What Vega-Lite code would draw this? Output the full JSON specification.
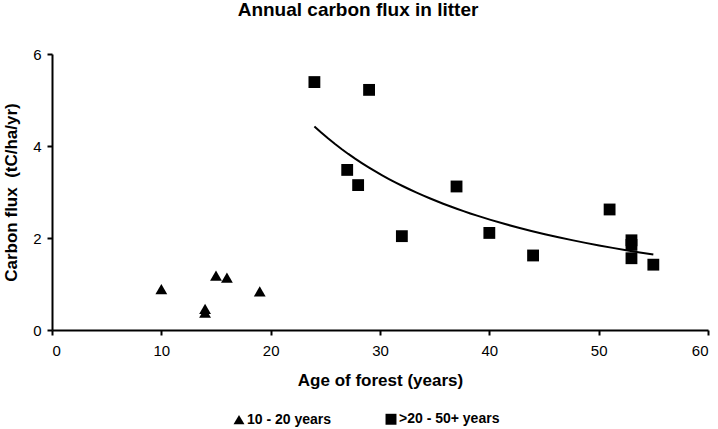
{
  "$schema": "https://vega.github.io/schema/vega-lite/v6.json",
  "width": 656,
  "height": 276,
  "autosize": {"type": "none"},
  "padding": {"left": 52, "top": 54, "right": 10, "bottom": 99},
  "background": "white",
  "title": {
    "text": "Annual carbon flux in litter",
    "font": "Liberation Sans",
    "fontSize": 19,
    "fontWeight": "bold",
    "color": "#000000",
    "anchor": "middle",
    "dx": -22,
    "offset": 27
  },
  "config": {
    "view": {"stroke": null},
    "font": "Liberation Sans",
    "axis": {
      "grid": false,
      "domainColor": "#000000",
      "domainWidth": 2,
      "tickColor": "#000000",
      "tickWidth": 2,
      "tickSize": 5,
      "labelFont": "Liberation Sans",
      "labelFontSize": 15,
      "labelColor": "#000000",
      "titleFont": "Liberation Sans",
      "titleFontSize": 17,
      "titleFontWeight": "bold",
      "titleColor": "#000000"
    }
  },
  "data": {
    "values": [
      {"age": 10, "flux": 0.89, "group": "10 - 20 years"},
      {"age": 14, "flux": 0.46, "group": "10 - 20 years"},
      {"age": 14, "flux": 0.38, "group": "10 - 20 years"},
      {"age": 15, "flux": 1.18, "group": "10 - 20 years"},
      {"age": 16, "flux": 1.14, "group": "10 - 20 years"},
      {"age": 19, "flux": 0.84, "group": "10 - 20 years"},
      {"age": 24, "flux": 5.39, "group": ">20 - 50+ years"},
      {"age": 29, "flux": 5.22, "group": ">20 - 50+ years"},
      {"age": 27, "flux": 3.48, "group": ">20 - 50+ years"},
      {"age": 28, "flux": 3.15, "group": ">20 - 50+ years"},
      {"age": 32, "flux": 2.04, "group": ">20 - 50+ years"},
      {"age": 37, "flux": 3.12, "group": ">20 - 50+ years"},
      {"age": 40, "flux": 2.11, "group": ">20 - 50+ years"},
      {"age": 44, "flux": 1.62, "group": ">20 - 50+ years"},
      {"age": 51, "flux": 2.62, "group": ">20 - 50+ years"},
      {"age": 53, "flux": 1.95, "group": ">20 - 50+ years"},
      {"age": 53, "flux": 1.85, "group": ">20 - 50+ years"},
      {"age": 53, "flux": 1.56, "group": ">20 - 50+ years"},
      {"age": 55, "flux": 1.42, "group": ">20 - 50+ years"}
    ]
  },
  "layer": [
    {
      "transform": [
        {"filter": "datum.group === '>20 - 50+ years'"},
        {"regression": "flux", "on": "age", "method": "pow", "extent": [24, 55]}
      ],
      "mark": {"type": "line", "color": "#000000", "strokeWidth": 2},
      "encoding": {
        "x": {"field": "age", "type": "quantitative"},
        "y": {"field": "flux", "type": "quantitative"}
      }
    },
    {
      "mark": {"type": "point", "filled": true, "opacity": 1, "size": 140, "color": "#000000"},
      "encoding": {
        "x": {
          "field": "age",
          "type": "quantitative",
          "scale": {"domain": [0, 60], "nice": false},
          "axis": {"values": [0, 10, 20, 30, 40, 50, 60], "title": "Age of forest (years)", "labelPadding": 8, "titlePadding": 14}
        },
        "y": {
          "field": "flux",
          "type": "quantitative",
          "scale": {"domain": [0, 6], "nice": false},
          "axis": {"values": [0, 2, 4, 6], "title": "Carbon flux \u00a0(tC/ha/yr)", "labelPadding": 6, "titlePadding": 12}
        },
        "shape": {
          "field": "group",
          "type": "nominal",
          "scale": {"domain": ["10 - 20 years", ">20 - 50+ years"], "range": ["triangle-up", "square"]},
          "legend": {
            "title": null,
            "orient": "none",
            "legendX": 180,
            "legendY": 358,
            "direction": "horizontal",
            "labelFont": "Liberation Sans",
            "labelFontSize": 14,
            "labelFontWeight": "bold",
            "labelColor": "#000000",
            "symbolSize": 120,
            "symbolFillColor": "#000000",
            "symbolStrokeColor": "#000000",
            "symbolOffset": 0,
            "labelOffset": 1,
            "columnPadding": 50
          }
        }
      }
    }
  ]
}
